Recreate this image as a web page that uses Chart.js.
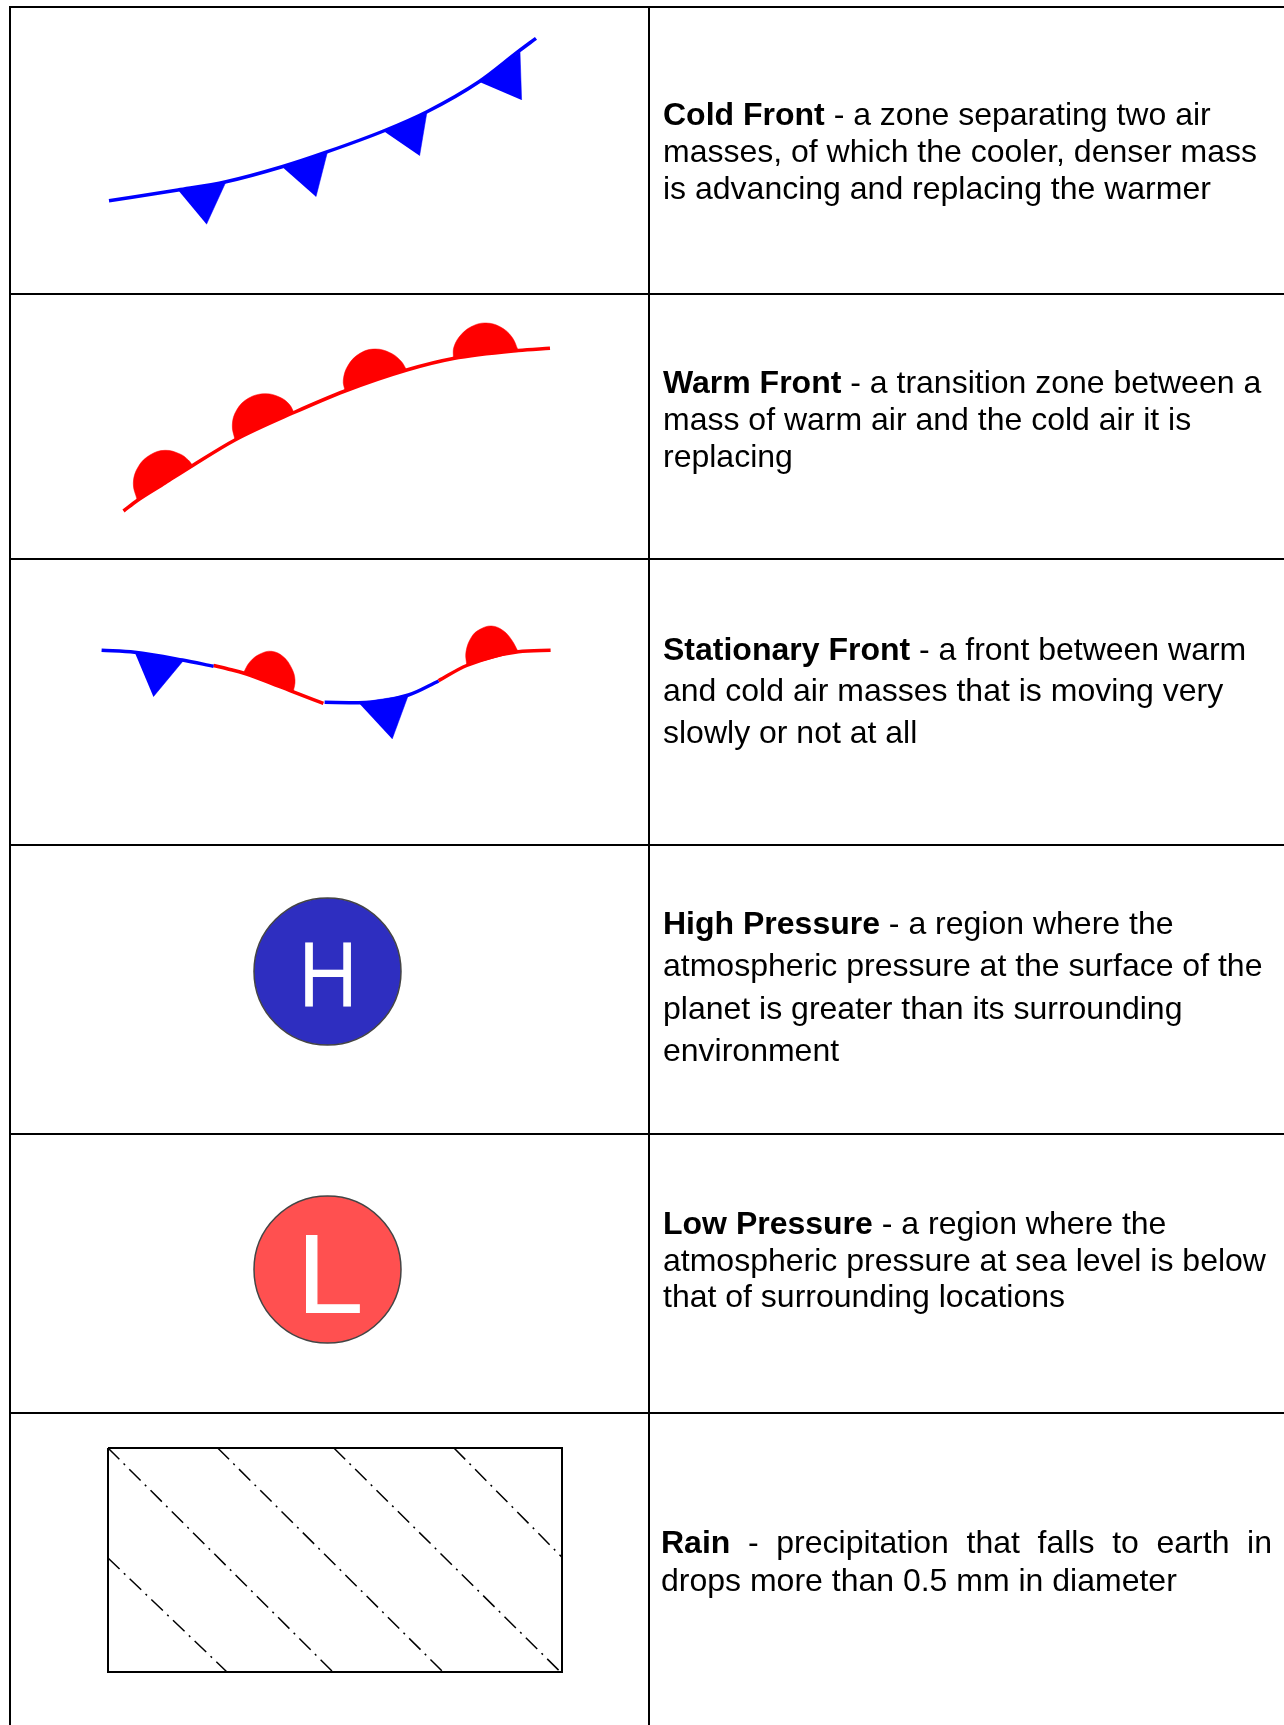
<!DOCTYPE html>
<html><head><meta charset="utf-8">
<style>
html,body{margin:0;padding:0;background:#fff;width:1284px;height:1725px;overflow:hidden}
#wrap{position:relative;width:1284px;height:1725px}
canvas{position:absolute;left:0;top:0}
.t{position:absolute;white-space:pre;line-height:0;font-family:"Liberation Sans",Arial,sans-serif;color:#000;font-size:32px}
.t b{font-weight:700}
.sym{position:absolute;line-height:0;font-family:"Liberation Sans",Arial,sans-serif;color:#fff}
</style>
</head><body><div id="wrap"><canvas id="c" width="1284" height="1725"></canvas></div>
<script src="https://cdn.jsdelivr.net/npm/chart.js@4/dist/chart.umd.min.js"></script>
<script>
// --- values (x, y in the picture's own units) ---
const tableRows = [7, 294, 559, 845, 1134, 1413];
const tableCols = [10, 649];
const coldLine = [[109,200.7],[178,190],[226,181.7],[282,166.7],[327.5,151.7],[383.5,131],[427,111.7],[479,81.7],[518,51.7],[536,38.3]];
const coldTriangles = [
  [[178,190],[226,181.7],[206.5,224.3]],
  [[282,166.7],[327.5,151.7],[316,196.7]],
  [[383.5,131],[427,111.7],[419.6,155.7]],
  [[479,81.7],[520,51.7],[521.6,100]]
];
const warmLine = [[123.5,511],[137.3,500.5],[165,483],[192.7,465.5],[235,440],[294,412.5],[345,391],[406.7,370],[453.3,358.5],[518.3,350.5],[550,348.3]];
const warmDomes = [
  [[137.3,500.5],[133.3,483.3],[138.3,466.7],[150,455],[165,450.3],[180,454],[188.3,460],[192.7,465.5]],
  [[235,440],[232.3,425],[236.7,410],[248.3,398.3],[265,393.7],[280,397.3],[289.3,404.3],[294,412.5]],
  [[345,391],[343.3,380],[348.3,365],[360,353.3],[375,349],[390,352.7],[400.7,360.7],[406.7,370]],
  [[453.3,358.5],[454,346.7],[461.7,334],[473.3,325.7],[486,323],[500,326.7],[511.7,336.7],[518.3,350.5]]
];
const statBlueA = [[101.6,650.3],[134.7,652.3],[182.4,660],[213.5,666.2]];
const statRedA = [[213.5,665.5],[230,669.5],[243.3,673],[269.5,682.5],[293.3,691.9],[323.4,703.3]];
const statBlueB = [[324.6,702.3],[358.6,702.7],[408.4,695],[438.6,681]];
const statRedB = [[438.6,680.7],[466.7,665.5],[518.2,651.7],[550.6,650.3]];
const statTriangles = [
  [[134.7,652.3],[183.7,660.2],[153.4,696.7]],
  [[358.6,702.7],[408.4,695],[392.2,739]]
];
const statDomes = [
  [[243.3,673],[250,661.7],[260,654],[271.7,651.3],[283.3,656.7],[291.7,668.3],[295,680],[293.3,691.9]],
  [[466.7,665.5],[466,651.7],[471.7,636.7],[480,629.3],[491.7,626],[503.3,630.7],[511.7,640],[518.2,651.7]]
];
const highCentre = [327.5, 971.5];
const lowCentre = [327.5, 1269.5];
const rainBox = [[108,1448],[562,1448],[562,1672],[108,1672],[108,1448]];
const rainLines = [
  [[108,1558],[227,1672]],
  [[108,1448],[333,1672]],
  [[217.7,1448],[443,1672]],
  [[333.8,1448],[560.5,1672]],
  [[454,1448],[561.5,1556.7]]
];
const textLines = [
  ["Cold Front"," - a zone separating two air",663,125],
  ["","masses, of which the cooler, denser mass",663,162],
  ["","is advancing and replacing the warmer",663,199],
  ["Warm Front"," - a transition zone between a",663,393.4],
  ["","mass of warm air and the cold air it is",663,430],
  ["","replacing",663,466.7],
  ["Stationary Front"," - a front between warm",663,659.7],
  ["","and cold air masses that is moving very",663,701.4],
  ["","slowly or not at all",663,743.2],
  ["High Pressure"," - a region where the",663,934],
  ["","atmospheric pressure at the surface of the",663,976.5],
  ["","planet is greater than its surrounding",663,1019],
  ["","environment",663,1061],
  ["Low Pressure"," - a region where the",663,1234],
  ["","atmospheric pressure at sea level is below",663,1270.7],
  ["","that of surrounding locations",663,1307.4],
  ["","drops more than 0.5 mm in diameter",661,1590.6]
];
const rainFirst = ["Rain"," - precipitation that falls to earth in"];

// --- build ---
const BLUE='#0000ff', RED='#ff0000';
const SMOOTH={cubicInterpolationMode:'monotone'};
const pts = a => a.map(p => ({x:p[0], y:p[1]}));
function line(a,color,w,extra){return Object.assign({data:pts(a),borderColor:color,borderWidth:w,pointRadius:0,showLine:true,fill:false,tension:0,borderCapStyle:'butt',clip:false},extra||{});}
function shape(a,color,tension){return {data:pts(a),borderColor:color,backgroundColor:color,borderWidth:0.5,pointRadius:0,showLine:true,fill:'shape',tension:tension,clip:false};}
function marker(c,color){return {data:pts([c]),showLine:false,pointStyle:'circle',pointRadius:73.5,pointBorderWidth:1.5,pointBackgroundColor:color,pointBorderColor:'#444',clip:false};}

const datasets=[];
tableRows.forEach(y=>datasets.push(line([[10,y],[1284,y]],'#000',2)));
tableCols.forEach(x=>datasets.push(line([[x,6],[x,1725]],'#000',2)));
datasets.push(line(coldLine,BLUE,3.5,SMOOTH));
coldTriangles.forEach(t=>datasets.push(shape(t,BLUE,0)));
datasets.push(line(warmLine,RED,3.5,SMOOTH));
warmDomes.forEach(d=>datasets.push(shape(d,RED,.4)));
datasets.push(line(statBlueA,BLUE,3.5,SMOOTH));
datasets.push(line(statRedA,RED,3.5,SMOOTH));
datasets.push(line(statBlueB,BLUE,3.5,SMOOTH));
datasets.push(line(statRedB,RED,3.5,SMOOTH));
statTriangles.forEach(t=>datasets.push(shape(t,BLUE,0)));
statDomes.forEach(d=>datasets.push(shape(d,RED,.4)));
datasets.push(marker(highCentre,'#2e2ec0'));
datasets.push(marker(lowCentre,'#ff5050'));
datasets.push(line(rainBox,'#000',2));
rainLines.forEach(l=>datasets.push(line(l,'#000',1.5,{borderDash:[16,6,2,6]})));

new Chart(document.getElementById('c'),{
  type:'scatter',
  data:{datasets},
  options:{
    responsive:false,animation:false,
    layout:{padding:0,autoPadding:false},
    plugins:{legend:{display:false},tooltip:{enabled:false},title:{display:false}},
    scales:{
      x:{type:'linear',min:0,max:1284,display:false},
      y:{type:'linear',min:0,max:1725,reverse:true,display:false}
    }
  }
});

// --- text ---
const wrap=document.getElementById('wrap');
const FS=32, BASE=0.3465;
function addText(bold,rest,x,y){
  const d=document.createElement('div');d.className='t';
  d.style.left=x+'px';d.style.top=(y-FS*BASE)+'px';
  if(bold){const b=document.createElement('b');b.textContent=bold;d.appendChild(b);}
  d.appendChild(document.createTextNode(rest));
  wrap.appendChild(d);return d;
}
textLines.forEach(l=>addText(l[0],l[1],l[2],l[3]));
const rd=addText(rainFirst[0],rainFirst[1],661,1553);
rd.style.whiteSpace='normal';rd.style.width='611px';rd.style.textAlign='justify';rd.style.textAlignLast='justify';
function addSym(s,x,y,fs,sx){const d=document.createElement('div');d.className='sym';d.textContent=s;d.style.left=x+'px';d.style.fontSize=fs+'px';d.style.top=(y-fs*BASE)+'px';d.style.transform='translateX(-50%) scaleX('+sx+')';wrap.appendChild(d);}
addSym('H',327.5,1007,92,0.89);
addSym('L',330,1313,113,1.08);
</script></body></html>
